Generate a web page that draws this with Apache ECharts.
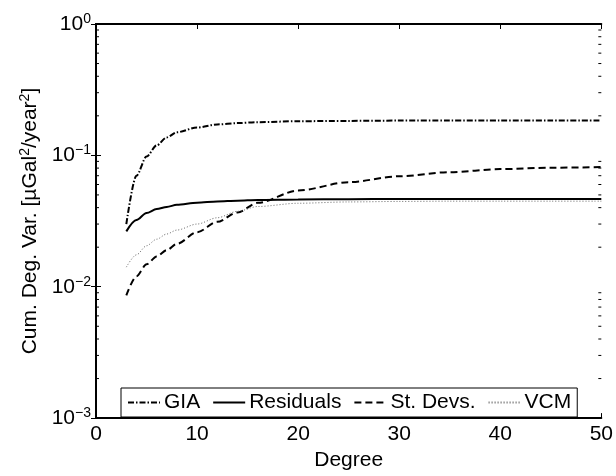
<!DOCTYPE html>
<html>
<head>
<meta charset="utf-8">
<script src="https://cdn.jsdelivr.net/npm/echarts@6/dist/echarts.min.js"></script>
<style>html,body{margin:0;padding:0;background:#fff}#c{width:616px;height:476px}</style>
</head>
<body>
<div id="c"></div>
<script>
const degrees = [3,4,5,6,7,8,10,12,14,16,20,25,30,35,40,45,50];
const gia       = [0.030,0.070,0.098,0.119,0.137,0.150,0.163,0.172,0.176,0.179,0.182,0.183,0.184,0.184,0.184,0.184,0.184];
const residuals = [0.0264,0.0322,0.0364,0.0390,0.0405,0.0420,0.0436,0.0446,0.0452,0.0458,0.0462,0.0464,0.0465,0.0465,0.0465,0.0465,0.0465];
const stDevs    = [0.0086,0.0120,0.0148,0.0170,0.0190,0.0212,0.0260,0.0312,0.0368,0.0435,0.0540,0.0625,0.0693,0.0745,0.0786,0.0805,0.0815];
const vcm       = [0.0141,0.0175,0.0205,0.0230,0.0252,0.0270,0.0300,0.0335,0.0375,0.0408,0.0432,0.0442,0.0446,0.0448,0.0448,0.0448,0.0448];
const seriesNames = ['GIA','Residuals','St. Devs.','VCM'];
const xTickValues = [0,10,20,30,40,50];
const yMinorTicks = [0.002,0.003,0.004,0.005,0.006,0.007,0.008,0.009,
                     0.02,0.03,0.04,0.05,0.06,0.07,0.08,0.09,
                     0.2,0.3,0.4,0.5,0.6,0.7,0.8,0.9];
const X_MIN = 0, X_MAX = 50, Y_MIN = 0.001, Y_MAX = 1;

const FONT = "'Liberation Sans', Arial, Helvetica, sans-serif";
const FS = 21;

const pairs = arr => degrees.map((d, i) => [d, arr[i]]);

const chart = echarts.init(document.getElementById('c'), null, {renderer: 'canvas'});

const axisLine = {show: true, lineStyle: {color: '#000', width: 2}};
const tick = {show: true, inside: true, length: 5, lineStyle: {color: '#000', width: 1}};

chart.setOption({
  animation: false,
  backgroundColor: '#fff',
  textStyle: {fontFamily: FONT, color: '#000'},
  grid: {left: 96, right: 12, top: 24, bottom: 51, containLabel: false},
  legend: {
    data: seriesNames,
    left: 121, top: 388,
    orient: 'horizontal',
    padding: [4, 6],
    itemGap: 12,
    itemWidth: 32,
    itemHeight: 14,
    itemStyle: {opacity: 0},
    borderColor: '#000',
    borderWidth: 1,
    backgroundColor: '#fff',
    textStyle: {fontFamily: FONT, fontSize: FS, color: '#000', padding: [0, 0, 0, -1]},
    z: 10
  },
  xAxis: [{
    type: 'value', min: X_MIN, max: X_MAX, interval: 10, position: 'bottom',
    name: 'Degree', nameLocation: 'middle', nameGap: 19,
    nameTextStyle: {fontFamily: FONT, fontSize: FS, color: '#000'},
    axisLine: axisLine, axisTick: tick, splitLine: {show: false},
    axisLabel: {fontFamily: FONT, fontSize: FS, color: '#000', margin: 6,
      formatter: v => xTickValues.includes(v) ? String(v) : ''}
  }, {
    type: 'value', min: X_MIN, max: X_MAX, interval: 10, position: 'top',
    axisLine: axisLine, axisTick: tick, splitLine: {show: false},
    axisLabel: {show: false}
  }],
  yAxis: [{
    type: 'log', logBase: 10, min: Y_MIN, max: Y_MAX, position: 'left',
    name: '{n|Cum. Deg. Var. [µGal}{s|2}{n|/year}{s|2}{n|]}',
    nameLocation: 'middle', nameGap: 50, nameRotate: 90,
    nameTextStyle: {
      fontFamily: FONT, color: '#000',
      rich: {
        n: {fontFamily: FONT, fontSize: FS, color: '#000', lineHeight: 24},
        s: {fontFamily: FONT, fontSize: 14, color: '#000', lineHeight: 12, verticalAlign: 'top'}
      }
    },
    axisLine: axisLine, axisTick: tick, splitLine: {show: false},
    axisLabel: {
      margin: 5,
      formatter: v => {
        const e = Math.round(Math.log10(v));
        return '{b|10}{s|' + (e === 0 ? '0' : '\u2212' + (-e)) + '}';
      },
      rich: {
        b: {fontFamily: FONT, fontSize: FS, color: '#000', lineHeight: 24},
        s: {fontFamily: FONT, fontSize: 14, color: '#000', lineHeight: 12, verticalAlign: 'top'}
      }
    }
  }, {
    type: 'log', logBase: 10, min: Y_MIN, max: Y_MAX, position: 'right',
    axisLine: axisLine, axisTick: tick, splitLine: {show: false},
    axisLabel: {show: false}
  }],
  series: [{
    name: 'GIA', type: 'line', data: pairs(gia), symbol: 'none',
    smooth: 0.3, smoothMonotone: 'x',
    lineStyle: {color: '#000', width: 2, type: [6, 2, 1.5, 2]},
    itemStyle: {color: '#000'}
  }, {
    name: 'Residuals', type: 'line', data: pairs(residuals), symbol: 'none',
    smooth: 0.3, smoothMonotone: 'x',
    lineStyle: {color: '#000', width: 2, type: 'solid'},
    itemStyle: {color: '#000'}
  }, {
    name: 'St. Devs.', type: 'line', data: pairs(stDevs), symbol: 'none',
    smooth: 0.3, smoothMonotone: 'x',
    lineStyle: {color: '#000', width: 2, type: [7, 4]},
    itemStyle: {color: '#000'}
  }, {
    name: 'VCM', type: 'line', data: pairs(vcm), symbol: 'none',
    smooth: 0.3, smoothMonotone: 'x',
    lineStyle: {color: '#666', width: 1, type: [1, 2]},
    itemStyle: {color: '#666'}
  }, {
    name: 'minorTicks', type: 'custom', silent: true, clip: false, z: 5,
    data: yMinorTicks.map(v => [X_MIN, v]),
    renderItem: (params, api) => {
      const v = api.value(1);
      const pL = api.coord([X_MIN, v]);
      const pR = api.coord([X_MAX, v]);
      return {type: 'group', children: [
        {type: 'line', shape: {x1: pL[0], y1: pL[1], x2: pL[0] + 3, y2: pL[1]}, style: {stroke: '#000', lineWidth: 1}},
        {type: 'line', shape: {x1: pR[0], y1: pR[1], x2: pR[0] - 3, y2: pR[1]}, style: {stroke: '#000', lineWidth: 1}}
      ]};
    }
  }]
});
</script>
</body>
</html>
